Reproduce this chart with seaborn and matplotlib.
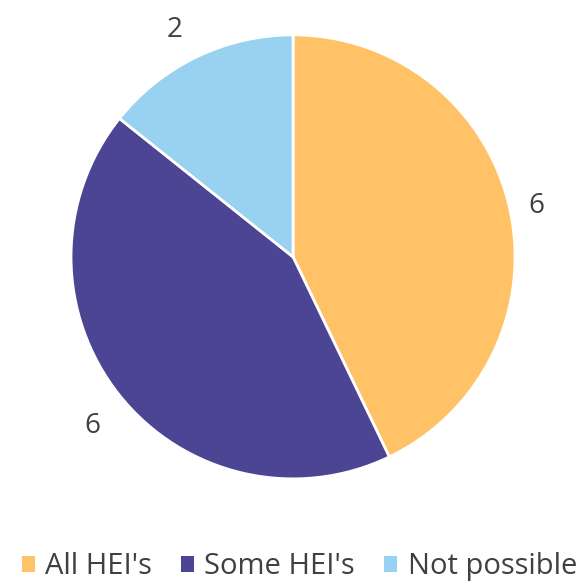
import matplotlib
matplotlib.use("Agg")
import matplotlib.pyplot as plt
import seaborn as sns
from matplotlib.patches import Patch

sns.set_theme(style="white")
plt.rcParams['font.family'] = ['Open Sans', 'DejaVu Sans']

categories = ["All HEI's", "Some HEI's", "Not possible"]
values = [6, 6, 2]
colors = ["#FFC266", "#4B4594", "#99D1F0"]

fig = plt.figure(figsize=(5.87, 5.84), dpi=100)
ax = fig.add_axes([0.121, 0.180, 0.7564, 0.7603])

wedges, texts = ax.pie(values, colors=colors, startangle=90, counterclock=False,
                       labels=[str(v) for v in values], labeldistance=1.12,
                       wedgeprops=dict(edgecolor="white", linewidth=2),
                       textprops=dict(fontsize=20, color="#404040"))
# nudge labels a bit to sit like the original
texts[0].set_position((1.06, 0.23))
texts[1].set_position((-0.87, -0.76))
texts[2].set_position((-0.50, 1.02))
ax.set_xlim(-1, 1)
ax.set_ylim(-1, 1)
ax.set_aspect("equal")
ax.axis("off")

handles = [Patch(facecolor=c, edgecolor="none") for c in colors]
fig.legend(handles, categories, loc="lower center", ncol=3, frameon=False,
           bbox_to_anchor=(0.51, -0.04), fontsize=21, labelcolor="#404040",
           handlelength=0.45, handleheight=0.45, handletextpad=0.35, columnspacing=1.0)

fig.savefig("out.png", dpi=100)
